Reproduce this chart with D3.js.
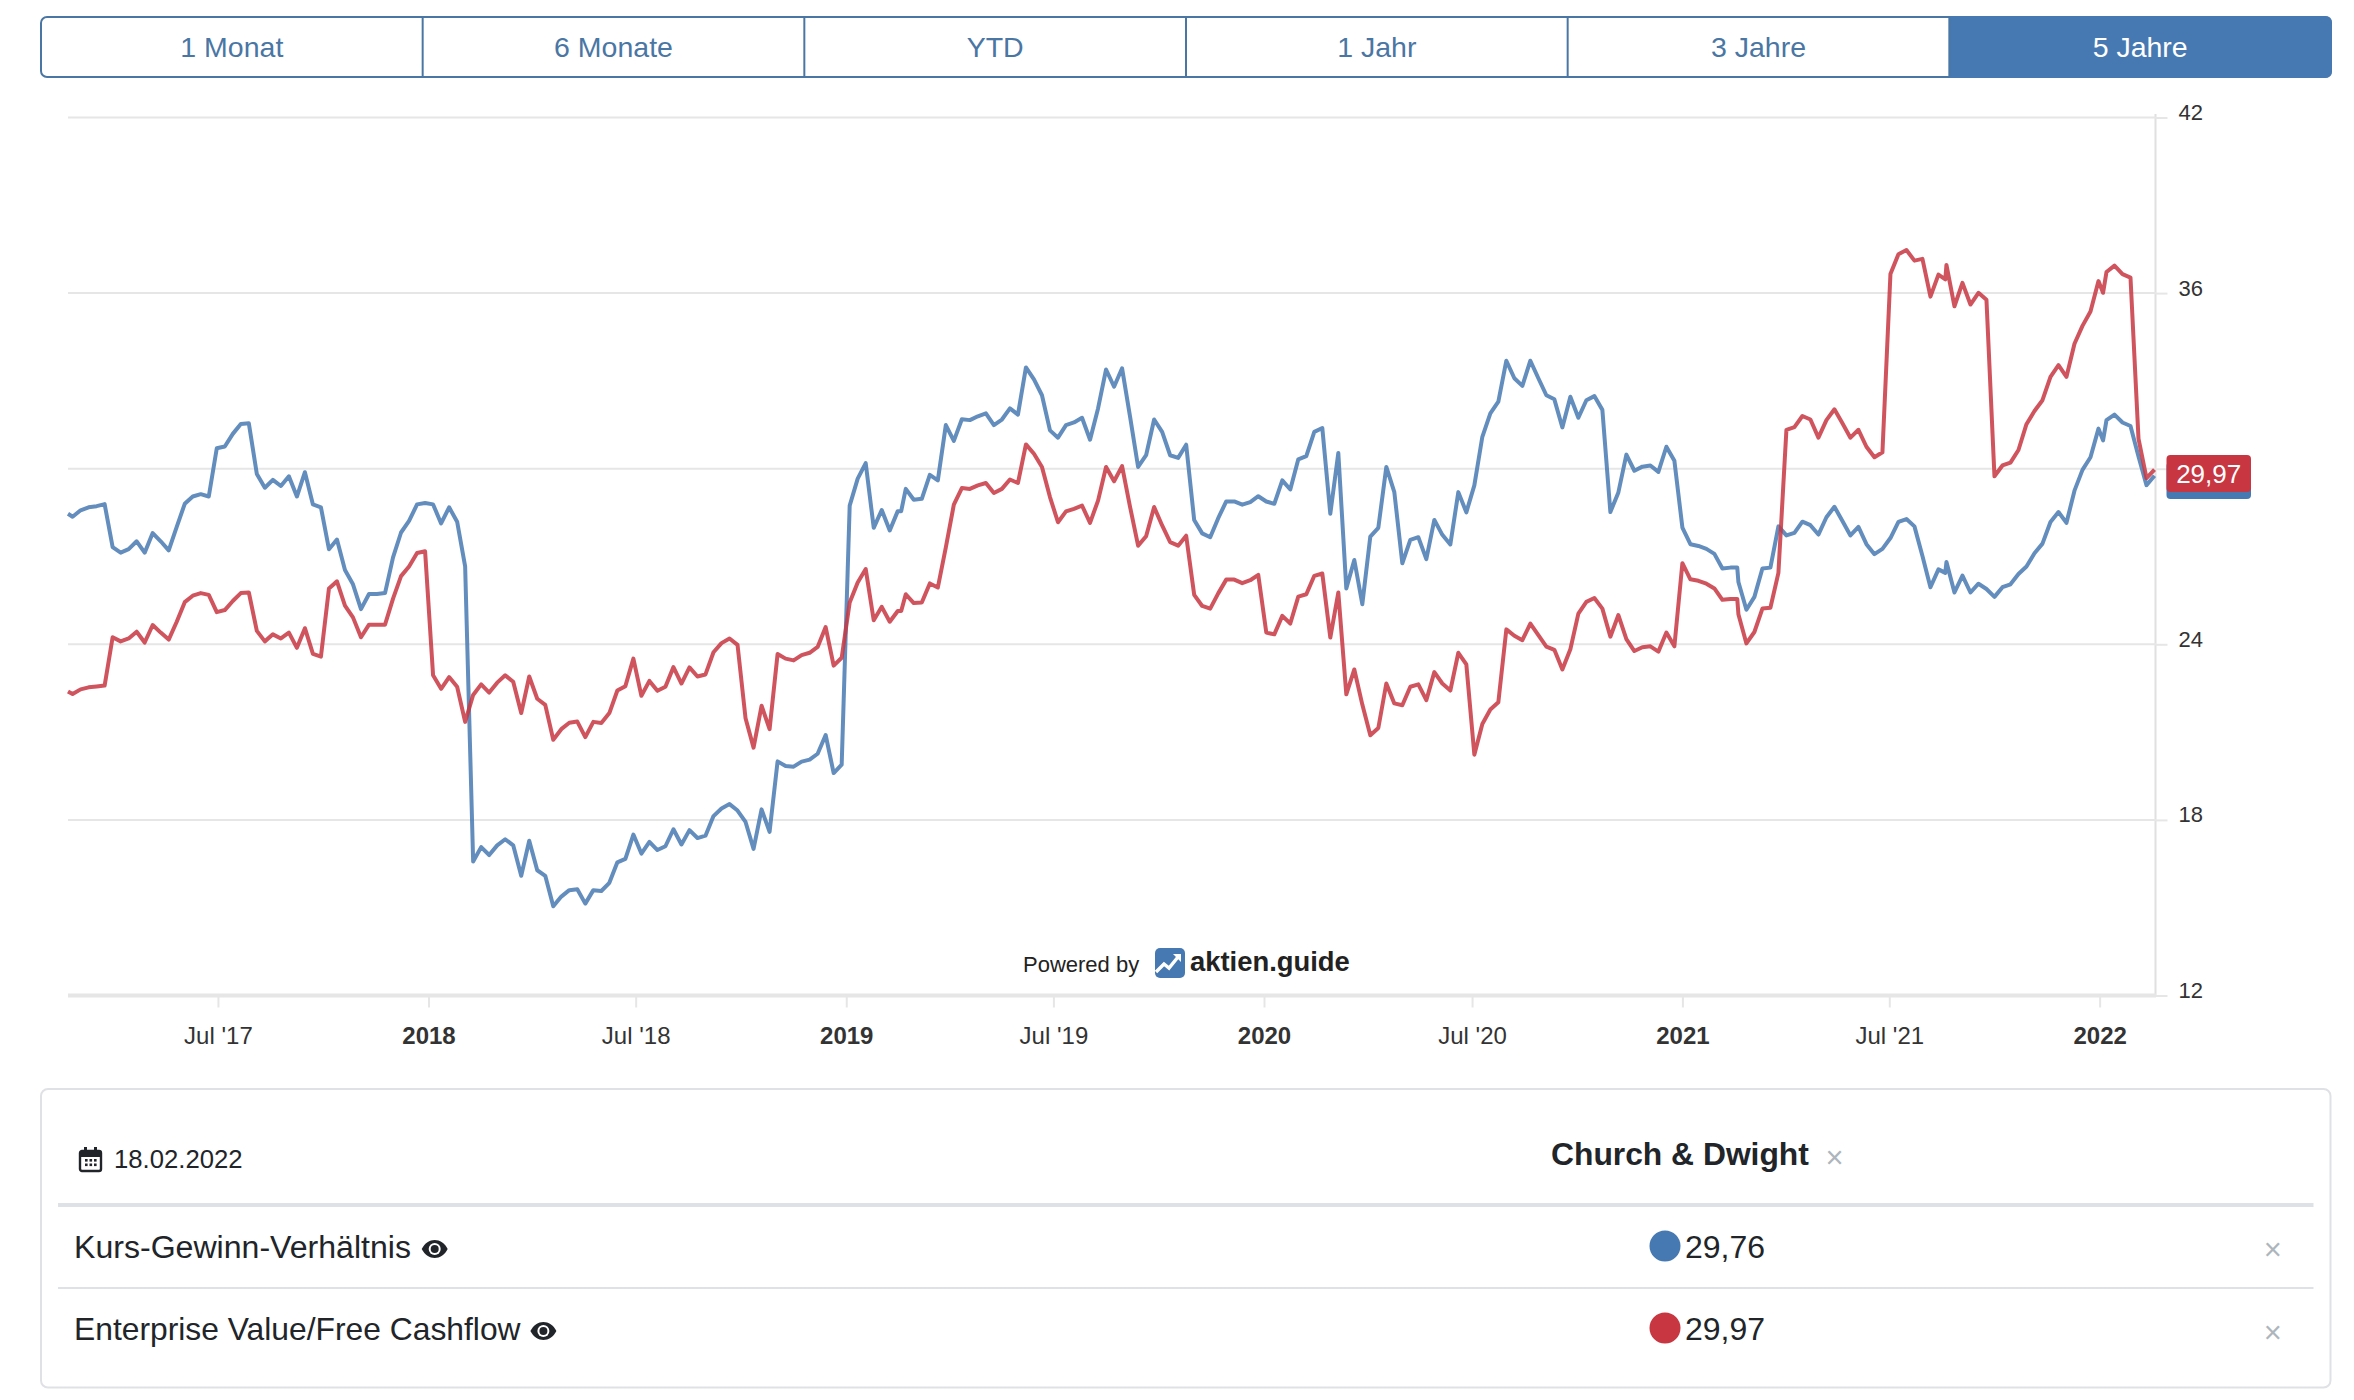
<!DOCTYPE html>
<html><head><meta charset="utf-8">
<script src="https://cdn.jsdelivr.net/npm/d3@7/dist/d3.min.js"></script>
<style>html,body{margin:0;padding:0;background:#fff}svg{display:block;font-family:"Liberation Sans",Arial,sans-serif}</style>
</head><body><svg id="c" width="2354" height="1400"></svg>
<script>
const rangeButtons = ["1 Monat","6 Monate","YTD","1 Jahr","3 Jahre","5 Jahre"];
const activeButton = "5 Jahre";
const yTicks = [12,18,24,30,36,42];
const xTickDates = ["2017-07-01","2018-01-01","2018-07-01","2019-01-01","2019-07-01","2020-01-01","2020-07-01","2021-01-01","2021-07-01","2022-01-01"];
const xTickLabels = ["Jul '17","2018","Jul '18","2019","Jul '19","2020","Jul '20","2021","Jul '21","2022"];
const seriesNames = ["Kurs-Gewinn-Verhältnis","Enterprise Value/Free Cashflow"];
const lastValues = ["29,76","29,97"];
const dateLabel = "18.02.2022";
const companyName = "Church & Dwight";
// Weekly Friday observations, plus the few off-cycle observations in the source
const firstFriday = "2017-02-24", lastFriday = "2022-02-18";
const extraDates = ["2017-02-20","2019-02-18","2021-02-18","2021-08-19","2022-01-04"];
const kgv = [
28.46,28.36,28.58,28.68,28.72,28.79,27.32,27.13,27.25,27.52,27.13,27.80,27.52,27.21,28.01,28.80,29.05,29.13,29.05,30.70,
30.76,31.19,31.53,31.55,29.82,29.35,29.62,29.41,29.74,29.05,29.88,28.78,28.68,27.25,27.58,26.54,26.05,25.20,25.72,25.72,
25.75,26.97,27.82,28.22,28.78,28.83,28.78,28.13,28.68,28.19,26.66,16.58,17.07,16.80,17.13,17.34,17.13,16.09,17.29,16.28,
16.09,15.05,15.38,15.60,15.63,15.14,15.60,15.57,15.85,16.55,16.67,17.50,16.85,17.25,16.97,17.10,17.68,17.16,17.65,17.38,
17.46,18.13,18.39,18.54,18.32,17.93,17.01,18.36,17.59,20.00,19.84,19.82,19.99,20.06,20.26,20.90,19.60,
19.89,28.74,29.66,30.19,27.98,28.59,27.89,28.55,28.55,29.31,28.94,28.97,29.79,29.60,31.49,30.95,31.69,31.66,31.79,31.89,
31.49,31.68,32.06,31.85,33.46,33.05,32.51,31.31,31.06,31.49,31.58,31.74,30.99,32.06,33.39,32.80,33.43,31.77,30.06,30.46,
31.68,31.26,30.46,30.37,30.82,28.25,27.79,27.66,28.31,28.88,28.88,28.77,28.86,29.06,28.88,28.80,29.60,29.29,30.32,30.43,
31.26,31.39,28.46,30.54,25.91,26.88,25.37,27.68,27.98,30.06,29.20,26.77,27.57,27.66,26.91,28.25,27.74,27.41,29.20,28.51,
29.43,31.09,31.89,32.29,33.69,33.09,32.83,33.69,33.09,32.51,32.37,31.41,32.46,31.74,32.34,32.48,
32.01,28.52,29.19,30.48,29.93,30.07,30.11,29.89,30.75,30.27,27.99,27.42,27.36,27.26,27.09,26.59,26.62,26.62,26.13,25.18,
25.62,26.59,26.62,28.03,27.72,27.81,28.19,28.07,27.75,28.34,28.70,28.21,27.72,28.01,27.42,27.08,27.26,27.63,28.18,28.28,
28.03,27.02,25.95,26.56,26.44,26.81,25.77,26.35,25.77,26.07,25.89,25.62,25.95,26.05,26.40,26.66,27.11,27.44,28.18,28.52,
28.15,29.25,29.96,30.39,31.37,30.97,31.66,31.85,31.58,31.46,30.42,29.44,29.76];
const evfcf = [
22.39,22.30,22.46,22.53,22.56,22.59,24.24,24.10,24.20,24.43,24.06,24.66,24.40,24.16,24.77,25.44,25.66,25.75,25.69,25.10,
25.17,25.48,25.75,25.77,24.46,24.10,24.34,24.20,24.40,23.88,24.55,23.67,23.58,25.91,26.15,25.32,24.92,24.24,24.67,24.67,
24.67,25.56,26.33,26.66,27.12,27.18,22.94,22.48,22.88,22.55,21.35,22.27,22.63,22.35,22.69,22.94,22.72,21.65,22.90,22.14,
21.93,20.74,21.10,21.32,21.36,20.83,21.35,21.31,21.65,22.42,22.57,23.51,22.24,22.75,22.41,22.55,23.22,22.66,23.21,22.90,
22.97,23.73,24.04,24.20,23.98,21.47,20.47,21.90,21.10,23.67,23.51,23.45,23.63,23.71,23.91,24.59,23.27,
23.54,25.43,26.11,26.57,24.82,25.28,24.77,25.14,25.14,25.71,25.41,25.43,26.08,25.94,27.31,28.77,29.34,29.31,29.43,29.51,
29.17,29.31,29.63,29.51,30.83,30.51,30.06,29.03,28.17,28.54,28.63,28.74,28.15,28.91,30.06,29.57,30.09,28.69,27.37,27.69,
28.69,28.06,27.49,27.37,27.71,25.69,25.31,25.22,25.74,26.21,26.21,26.09,26.19,26.37,24.40,24.34,24.97,24.71,25.63,25.71,
26.34,26.42,24.23,25.77,22.29,23.14,21.94,20.89,21.14,22.66,21.98,21.92,22.55,22.63,22.09,23.05,22.66,22.42,23.71,23.31,
20.23,21.28,21.77,22.02,24.51,24.29,24.14,24.71,24.31,23.92,23.81,23.14,23.83,25.05,25.45,25.58,
25.22,24.26,25.00,24.18,23.77,23.90,23.93,23.75,24.40,23.93,26.77,26.22,26.17,26.07,25.91,25.52,25.55,25.55,25.03,24.03,
24.42,25.22,25.25,26.44,31.33,31.42,31.80,31.68,31.06,31.66,32.03,31.55,31.06,31.33,30.75,30.39,30.56,36.65,37.33,37.47,
37.11,37.17,35.88,36.63,36.47,36.96,35.55,36.35,35.61,36.01,35.77,29.74,30.11,30.21,30.64,31.52,31.97,32.34,33.14,33.54,
33.14,34.27,34.88,35.37,36.41,36.01,36.72,36.94,36.65,36.53,31.03,29.68,29.97];

const BLUE="#4679b2", RED="#c73641", INK="#212529", AXIS="#e6e6e6", LAB="#333333";
const parse=d3.utcParse("%Y-%m-%d");
const fridays=d3.utcDay.range(parse(firstFriday),d3.utcDay.offset(parse(lastFriday),1),7);
const dates=fridays.concat(extraDates.map(parse)).sort((a,b)=>a-b);
const svg=d3.select("#c");

// range buttons
const bx=d3.scaleBand().domain(rangeButtons).range([41,2331]);
const btnG=svg.append("g");
btnG.append("rect").attr("x",41).attr("y",17).attr("width",2290).attr("height",60).attr("rx",6).attr("fill","#fff").attr("stroke","#4a76a4").attr("stroke-width",2);
btnG.append("path").attr("fill",BLUE)
  .attr("d",()=>{const x=bx(activeButton),w=bx.bandwidth(),r=7;return `M${x},16H${x+w+1-r}q${r},0 ${r},${r}V${78-r}q0,${r} ${-r},${r}H${x}Z`;});
btnG.selectAll("line").data(rangeButtons.slice(1,-1)).join("line")
  .attr("x1",d=>bx(d)+bx.bandwidth()).attr("x2",d=>bx(d)+bx.bandwidth()).attr("y1",17).attr("y2",77).attr("stroke","#4a76a4").attr("stroke-width",2);
btnG.selectAll("line.first").data(rangeButtons.slice(1,2)).join("line").attr("class","first")
  .attr("x1",d=>bx(d)).attr("x2",d=>bx(d)).attr("y1",17).attr("y2",77).attr("stroke","#4a76a4").attr("stroke-width",2);
btnG.selectAll("text").data(rangeButtons).join("text")
  .attr("x",d=>bx(d)+bx.bandwidth()/2).attr("y",57).attr("text-anchor","middle").attr("font-size",28.5)
  .attr("fill",d=>d===activeButton?"#fff":"#4a76a4").text(d=>d);

// scales
const x=d3.scaleUtc().domain([parse("2017-02-20"),parse("2020-01-01"),parse(lastFriday)]).range([68,1264,2154.5]);
const y=d3.scaleLinear().domain([12,42]).range([995.5,117.5]);

// y axis + grid (the 30 label sits hidden behind the end badge in the original)
const yAxis=d3.axisRight(y).tickValues(yTicks).tickSize(12).tickPadding(10).tickFormat(d=>d===30?"":d);
const yG=svg.append("g").attr("transform","translate(2155.5,0)").call(yAxis);
yG.select(".domain").attr("stroke","#e0e0e0").attr("stroke-width",2).attr("d","M0,114V996");
yG.selectAll(".tick line").attr("stroke",AXIS).attr("stroke-width",2);
yG.selectAll(".tick text").attr("font-size",22).attr("font-family","Liberation Sans").attr("fill",LAB).attr("dy",0).attr("y",2).attr("x",23);
const gridG=svg.append("g");
gridG.selectAll("line").data(yTicks.filter(d=>d>12)).join("line")
  .attr("x1",68).attr("x2",2156).attr("y1",d=>y(d)).attr("y2",d=>y(d)).attr("stroke",AXIS).attr("stroke-width",2);

// x axis
const xAxis=d3.axisBottom(x).tickValues(xTickDates.map(parse)).tickSize(12).tickPadding(20)
  .tickFormat((d,i)=>xTickLabels[i]);
const xG=svg.append("g").attr("transform","translate(0,995.5)").call(xAxis);
xG.select(".domain").attr("stroke","#e6e6e6").attr("stroke-width",4).attr("d","M68,0H2156");
xG.selectAll(".tick line").attr("stroke",AXIS).attr("stroke-width",2);
xG.selectAll(".tick text").attr("font-family","Liberation Sans").attr("font-size",24).attr("fill",LAB)
  .attr("dy",0).attr("y",48).attr("font-weight",(d,i)=>xTickLabels[i].startsWith("Jul")?"normal":"bold");

// lines
const line=d3.line().x((d,i)=>x(dates[i])).y(d=>y(d)).curve(d3.curveLinear);
svg.append("path").datum(kgv).attr("d",line).attr("fill","none").attr("stroke",BLUE).attr("stroke-opacity",.85).attr("stroke-width",4).attr("stroke-linejoin","round");
svg.append("path").datum(evfcf).attr("d",line).attr("fill","none").attr("stroke",RED).attr("stroke-opacity",.85).attr("stroke-width",4).attr("stroke-linejoin","round");

// end labels
svg.append("rect").attr("x",2166.5).attr("y",462).attr("width",84.5).attr("height",37).attr("rx",4).attr("fill",BLUE);
svg.append("rect").attr("x",2166.5).attr("y",455).attr("width",84.5).attr("height",37).attr("rx",4).attr("fill",RED);
svg.append("text").attr("x",2208.7).attr("y",483).attr("text-anchor","middle").attr("font-size",26).attr("fill","#fff").text(lastValues[1]);

// credit
svg.append("text").attr("x",1023).attr("y",972).attr("font-size",22).attr("fill","#222").text("Powered by");
const logo=svg.append("g").attr("transform","translate(1155,948)");
logo.append("rect").attr("width",30).attr("height",30).attr("rx",5).attr("fill",BLUE);
logo.append("path").attr("d","M1,24L9,16L14,20L23,9").attr("fill","none").attr("stroke","#fff").attr("stroke-width",3.4);
logo.append("path").attr("d","M18,6H26V14Z").attr("fill","#fff");
svg.append("text").attr("x",1190).attr("y",971).attr("font-size",27.4).attr("font-weight","bold").attr("fill","#222").text("aktien.guide");

// table panel
const panel=svg.append("g");
panel.append("rect").attr("x",41).attr("y",1089).attr("width",2289.5).attr("height",298.5).attr("rx",7).attr("fill","#fff").attr("stroke","#dfe1e4").attr("stroke-width",2);
panel.append("line").attr("x1",58).attr("x2",2313.5).attr("y1",1205).attr("y2",1205).attr("stroke","#dee2e6").attr("stroke-width",4);
panel.append("line").attr("x1",58).attr("x2",2313.5).attr("y1",1288).attr("y2",1288).attr("stroke","#dee2e6").attr("stroke-width",2);

// calendar icon
const cal=panel.append("g").attr("transform","translate(79,1147)").attr("fill",INK);
cal.append("rect").attr("x",1).attr("y",4).attr("width",21).attr("height",20).attr("rx",2).attr("fill","none").attr("stroke",INK).attr("stroke-width",2.4);
cal.append("rect").attr("x",1).attr("y",4).attr("width",21).attr("height",6);
cal.append("rect").attr("x",5).attr("y",0).attr("width",3).attr("height",6);
cal.append("rect").attr("x",15).attr("y",0).attr("width",3).attr("height",6);
[[6,12],[10.5,12],[15,12],[6,16.5],[10.5,16.5],[15,16.5]].forEach(p=>cal.append("rect").attr("x",p[0]).attr("y",p[1]).attr("width",2.6).attr("height",2.6));
panel.append("text").attr("x",114).attr("y",1168).attr("font-size",25.7).attr("fill",INK).text(dateLabel);

panel.append("text").attr("x",1551).attr("y",1165).attr("font-size",31.8).attr("font-weight","bold").attr("fill",INK).text(companyName);
panel.append("text").attr("x",1834.5).attr("y",1168).attr("text-anchor","middle").attr("font-size",31).attr("fill","#adb5bd").text("×");

const rows=[{b:1258,dot:1246,eye:1249,xm:1260,c:BLUE,fs:32.1},{b:1340,dot:1328,eye:1331,xm:1343,c:RED,fs:31.8}];
const eyeX=[434.7,543.4];
rows.forEach((r,i)=>{
  panel.append("text").attr("x",74).attr("y",r.b).attr("font-size",r.fs).attr("fill",INK).text(seriesNames[i]);
  const e=panel.append("g").attr("transform",`translate(${eyeX[i]},${r.eye})`);
  e.append("path").attr("d","M-13,0C-7,-12 7,-12 13,0C7,12 -7,12 -13,0Z").attr("fill",INK);
  e.append("circle").attr("r",6).attr("fill","#fff");
  e.append("circle").attr("r",4).attr("fill",INK);
  panel.append("circle").attr("cx",1665).attr("cy",r.dot).attr("r",15.5).attr("fill",r.c);
  panel.append("text").attr("x",1685).attr("y",r.b).attr("font-size",32).attr("fill",INK).text(lastValues[i]);
  panel.append("text").attr("x",2272.7).attr("y",r.xm).attr("text-anchor","middle").attr("font-size",31).attr("fill","#adb5bd").text("×");
});
if(dates.length!==kgv.length||dates.length!==evfcf.length) console.error("length mismatch",dates.length,kgv.length,evfcf.length);
</script></body></html>
